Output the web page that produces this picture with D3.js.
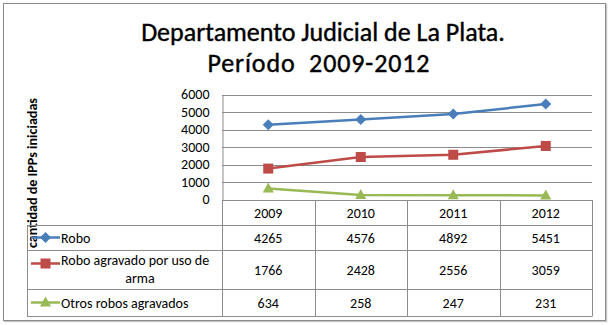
<!DOCTYPE html>
<html><head><meta charset="utf-8">
<script src="https://cdn.jsdelivr.net/npm/d3@7/dist/d3.min.js"></script>
<style>body{margin:0;background:#fff}svg{display:block;font-family:Carlito,Lato,"Open Sans",sans-serif}</style>
</head><body><svg id="c" width="610" height="325"></svg>
<script>
const years = ["2009","2010","2011","2012"];
const seriesNames = ["Robo","Robo agravado por uso de arma","Otros robos agravados"];
const robo = [4265,4576,4892,5451];
const roboArma = [1766,2428,2556,3059];
const otros = [634,258,247,231];
const yTicks = [0,1000,2000,3000,4000,5000,6000];
const colors = ["#4A7EBB","#BE4B48","#98B954"];
const titleLines = ["Departamento Judicial de La Plata.","Período  2009-2012"];
const yTitle = "cantidad de IPPs iniciadas";

const FF = "Carlito,Lato,'Open Sans',sans-serif";
const series = [robo, roboArma, otros];
const svg = d3.select("#c");
svg.append("rect").attr("x",4.5).attr("y",4.5).attr("width",602).attr("height",317).attr("fill","none").attr("stroke","#c8c8c8").attr("stroke-width",1.5);
svg.append("rect").attr("x",3.5).attr("y",3.5).attr("width",602).attr("height",317).attr("fill","#fff").attr("stroke","#8a8a8a").attr("stroke-width",1);

// title
svg.append("text").attr("x",323).attr("y",41).attr("text-anchor","middle").attr("font-size",26).attr("fill","#000")
  .attr("stroke","#000").attr("stroke-width",0.4).text(titleLines[0]);
svg.append("text").attr("x",318.5).attr("y",72).attr("text-anchor","middle").attr("font-size",26).attr("fill","#000")
  .attr("stroke","#000").attr("stroke-width",0.4).attr("xml:space","preserve").style("white-space","pre")
  .attr("textLength",222).attr("lengthAdjust","spacing").text(titleLines[1]);

const L=222, R=592, T=94.5, B=199.5;
const x = d3.scaleBand().domain(years).range([L,R]);
const y = d3.scaleLinear().domain([0,6000]).range([B,T]);

svg.append("g").selectAll("line").data(yTicks.filter(d=>d>0)).join("line")
  .attr("x1",L).attr("x2",R).attr("y1",d=>Math.round(y(d))+0.5).attr("y2",d=>Math.round(y(d))+0.5)
  .attr("stroke","#8c8c8c").attr("stroke-width",1);
const ya = svg.append("g").attr("transform",`translate(${L+0.5},0)`)
  .call(d3.axisLeft(y).tickValues(yTicks).tickFormat(d3.format("d")).tickSize(0).tickPadding(13));
ya.select(".domain").attr("stroke","#8c8c8c");
ya.selectAll("text").attr("font-size",14).attr("fill","#000").attr("font-family",FF);

svg.append("text").attr("transform","translate(36.5,173) rotate(-90)").attr("text-anchor","middle")
  .attr("font-size",13).attr("font-weight","bold").attr("fill","#000")
  .attr("textLength",150).attr("lengthAdjust","spacingAndGlyphs").text(yTitle);

// table
const rowsY = [200,225,250,289,316];
const tg = svg.append("g").attr("stroke","#8c8c8c").attr("stroke-width",1);
tg.append("line").attr("x1",L).attr("x2",R).attr("y1",rowsY[0]+0.5).attr("y2",rowsY[0]+0.5);
rowsY.slice(1).forEach(r=>tg.append("line").attr("x1",27).attr("x2",R).attr("y1",r+0.5).attr("y2",r+0.5));
tg.append("line").attr("x1",27.5).attr("x2",27.5).attr("y1",rowsY[1]).attr("y2",rowsY[4]+0.5);
years.forEach((yr,i)=>tg.append("line").attr("x1",Math.round(x(yr))+0.5).attr("x2",Math.round(x(yr))+0.5).attr("y1",rowsY[0]).attr("y2",rowsY[4]+0.5));
tg.append("line").attr("x1",R+0.5).attr("x2",R+0.5).attr("y1",rowsY[0]).attr("y2",rowsY[4]+0.5);

svg.append("g").selectAll("text").data(years).join("text")
  .attr("x",d=>x(d)+x.bandwidth()/2).attr("y",(rowsY[0]+rowsY[1])/2+5).attr("text-anchor","middle")
  .attr("font-size",14).attr("fill","#000").text(d=>d);
series.forEach((s,si)=>{
  const cy = (rowsY[si+1]+rowsY[si+2])/2+5;
  svg.append("g").selectAll("text").data(s).join("text")
    .attr("x",(d,i)=>x(years[i])+x.bandwidth()/2).attr("y",cy).attr("text-anchor","middle")
    .attr("font-size",14).attr("fill","#000").text(d=>d);
});

function marker(g,si,cx,cy){
  let p;
  if(si===0){p=g.append("path").attr("d",`M${cx},${cy-5.5}L${cx+5.5},${cy}L${cx},${cy+5.5}L${cx-5.5},${cy}Z`);}
  else if(si===1){p=g.append("rect").attr("x",cx-5).attr("y",cy-5).attr("width",10).attr("height",10);}
  else {p=g.append("path").attr("d",`M${cx},${cy-6}L${cx+5.5},${cy+4}L${cx-5.5},${cy+4}Z`);}
  p.attr("fill",colors[si]);
}

const line = d3.line().x((d,i)=>x(years[i])+x.bandwidth()/2).y(d=>y(d));
series.forEach((s,si)=>{
  svg.append("path").datum(s).attr("d",line).attr("fill","none").attr("stroke",colors[si]).attr("stroke-width",2.5);
  const g=svg.append("g");
  s.forEach((v,i)=>marker(g,si,x(years[i])+x.bandwidth()/2,y(v)));
});

series.forEach((s,si)=>{
  const cy = (rowsY[si+1]+rowsY[si+2])/2 + (si===1?-6:0);
  const g = svg.append("g");
  g.append("line").attr("x1",31).attr("x2",60).attr("y1",cy).attr("y2",cy).attr("stroke",colors[si]).attr("stroke-width",2.5);
  marker(g,si,45.5,cy);
});
svg.append("text").attr("x",61).attr("y",(rowsY[1]+rowsY[2])/2+5).attr("font-size",14).text(seriesNames[0]);
svg.append("text").attr("x",61).attr("y",264.5).attr("font-size",14).text("Robo agravado por uso de");
svg.append("text").attr("x",140).attr("y",282.5).attr("text-anchor","middle").attr("font-size",14).text("arma");
svg.append("text").attr("x",61).attr("y",(rowsY[3]+rowsY[4])/2+5).attr("font-size",14).text(seriesNames[2]);
</script></body></html>
